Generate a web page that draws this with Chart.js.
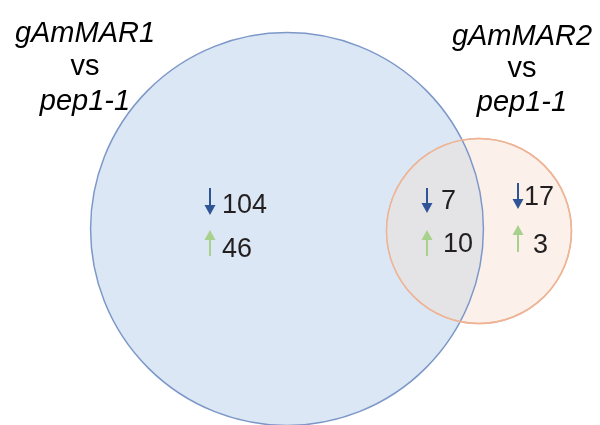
<!DOCTYPE html>
<html>
<head>
<meta charset="utf-8">
<script src="https://cdn.jsdelivr.net/npm/chart.js@4/dist/chart.umd.min.js"></script>
<style>
  body { margin: 0; background: #ffffff; }
  #wrap { width: 600px; height: 425px; }
</style>
</head>
<body>
<div id="wrap"><canvas id="venn_chart"></canvas></div>
<script>
// set names and comparison
const setNames = ["gAmMAR1", "gAmMAR2"];
const versus = "pep1-1";
// regions: gAmMAR1 only, shared, gAmMAR2 only
const regions = ["gAmMAR1 only", "shared", "gAmMAR2 only"];
const downCounts = [104, 7, 17];
const upCounts = [46, 10, 3];

// set totals decide circle size
const setTotals = [
  downCounts[0] + upCounts[0] + downCounts[1] + upCounts[1],
  downCounts[2] + upCounts[2] + downCounts[1] + upCounts[1],
];

// layout (chart units = pixels, y down)
const centres = [[287, 229], [479, 231]];
const radiusScale = 15.2;
const titleX = [85, 522];
const titleY = [[42, 75, 110], [45, 77, 111]];
const arrowX = [210, 427, 518];
const downArrowY = [[188, 215], [188, 213], [183, 209]];
const upArrowY = [[256, 230], [256, 230], [252, 225]];
const downTextX = [222, 441, 524];
const upTextX = [222, 443, 533];
const downTextY = [213, 209, 205];
const upTextY = [257, 252, 253];

const overlapColour = "rgb(228, 228, 231)";

function drawArrow(ctx, x, y0, y1, colour) {
  // y0 = tail, y1 = tip
  let dir = y1 > y0 ? 1 : -1;
  let headLen = 10;
  ctx.strokeStyle = colour;
  ctx.fillStyle = colour;
  ctx.lineWidth = 2;
  ctx.beginPath();
  ctx.moveTo(x, y0);
  ctx.lineTo(x, y1 - dir * headLen);
  ctx.stroke();
  ctx.beginPath();
  ctx.moveTo(x - 5.5, y1 - dir * headLen);
  ctx.lineTo(x + 5.5, y1 - dir * headLen);
  ctx.lineTo(x, y1);
  ctx.closePath();
  ctx.fill();
}

function circlePath(ctx, el) {
  ctx.beginPath();
  ctx.arc(el.x, el.y, el.options.radius, 0, Math.PI * 2);
}

// grey lens where the two sets meet, then both outlines on top
const vennOverlap = {
  id: "vennOverlap",
  afterDatasetsDraw(chart) {
    const ctx = chart.ctx;
    const a = chart.getDatasetMeta(0).data[0];
    const b = chart.getDatasetMeta(1).data[0];
    ctx.save();
    circlePath(ctx, a);
    ctx.clip();
    circlePath(ctx, b);
    ctx.fillStyle = overlapColour;
    ctx.fill();
    ctx.restore();

    ctx.save();
    ctx.lineWidth = a.options.borderWidth;
    circlePath(ctx, b);
    ctx.clip();
    circlePath(ctx, a);
    ctx.strokeStyle = a.options.borderColor;
    ctx.stroke();
    ctx.restore();

    ctx.save();
    ctx.lineWidth = b.options.borderWidth;
    circlePath(ctx, b);
    ctx.strokeStyle = b.options.borderColor;
    ctx.stroke();
    ctx.restore();
  },
};

const vennLabels = {
  id: "vennLabels",
  afterDatasetsDraw(chart) {
    const ctx = chart.ctx;
    const xs = chart.scales.x;
    const ys = chart.scales.y;
    ctx.save();
    ctx.fillStyle = "#000000";
    ctx.textAlign = "center";
    ctx.textBaseline = "alphabetic";
    for (let i = 0; i < setNames.length; i++) {
      let x = xs.getPixelForValue(titleX[i]);
      ctx.font = "italic 29px 'Liberation Sans', Arial, sans-serif";
      ctx.fillText(setNames[i], x, ys.getPixelForValue(titleY[i][0]));
      ctx.font = "29px 'Liberation Sans', Arial, sans-serif";
      ctx.fillText("vs", x, ys.getPixelForValue(titleY[i][1]));
      ctx.font = "italic 29px 'Liberation Sans', Arial, sans-serif";
      ctx.fillText(versus, x, ys.getPixelForValue(titleY[i][2]));
    }
    ctx.textAlign = "left";
    ctx.font = "27px 'Liberation Sans', Arial, sans-serif";
    for (let i = 0; i < regions.length; i++) {
      let ax = xs.getPixelForValue(arrowX[i]);
      drawArrow(ctx, ax, ys.getPixelForValue(downArrowY[i][0]), ys.getPixelForValue(downArrowY[i][1]), "#2f5597");
      drawArrow(ctx, ax, ys.getPixelForValue(upArrowY[i][0]), ys.getPixelForValue(upArrowY[i][1]), "#a9d18e");
      ctx.fillStyle = "#231f20";
      ctx.fillText(String(downCounts[i]), xs.getPixelForValue(downTextX[i]), ys.getPixelForValue(downTextY[i]));
      ctx.fillText(String(upCounts[i]), xs.getPixelForValue(upTextX[i]), ys.getPixelForValue(upTextY[i]));
    }
    ctx.restore();
  },
};

let venn_chart = document.getElementById("venn_chart");
let vennChart = new Chart(venn_chart, {
  type: "bubble",
  data: {
    datasets: [
      {
        label: setNames[0],
        data: [{ x: centres[0][0], y: centres[0][1], r: radiusScale * Math.sqrt(setTotals[0]) }],
        backgroundColor: "rgb(219, 231, 244)",
        borderColor: "rgb(125, 152, 200)",
        borderWidth: 1.5,
        clip: false,
        order: 2,
      },
      {
        label: setNames[1],
        data: [{ x: centres[1][0], y: centres[1][1], r: radiusScale * Math.sqrt(setTotals[1]) }],
        backgroundColor: "rgb(252, 241, 234)",
        borderColor: "rgb(238, 180, 150)",
        borderWidth: 1.5,
        clip: false,
        order: 1,
      },
    ],
  },
  options: {
    responsive: true,
    maintainAspectRatio: false,
    animation: false,
    layout: { padding: 0, autoPadding: false },
    plugins: {
      legend: { display: false },
      tooltip: { enabled: false },
    },
    scales: {
      x: { type: "linear", min: 0, max: 600, display: false },
      y: { type: "linear", min: 0, max: 425, reverse: true, display: false },
    },
  },
  plugins: [vennOverlap, vennLabels],
});
</script>
</body>
</html>
